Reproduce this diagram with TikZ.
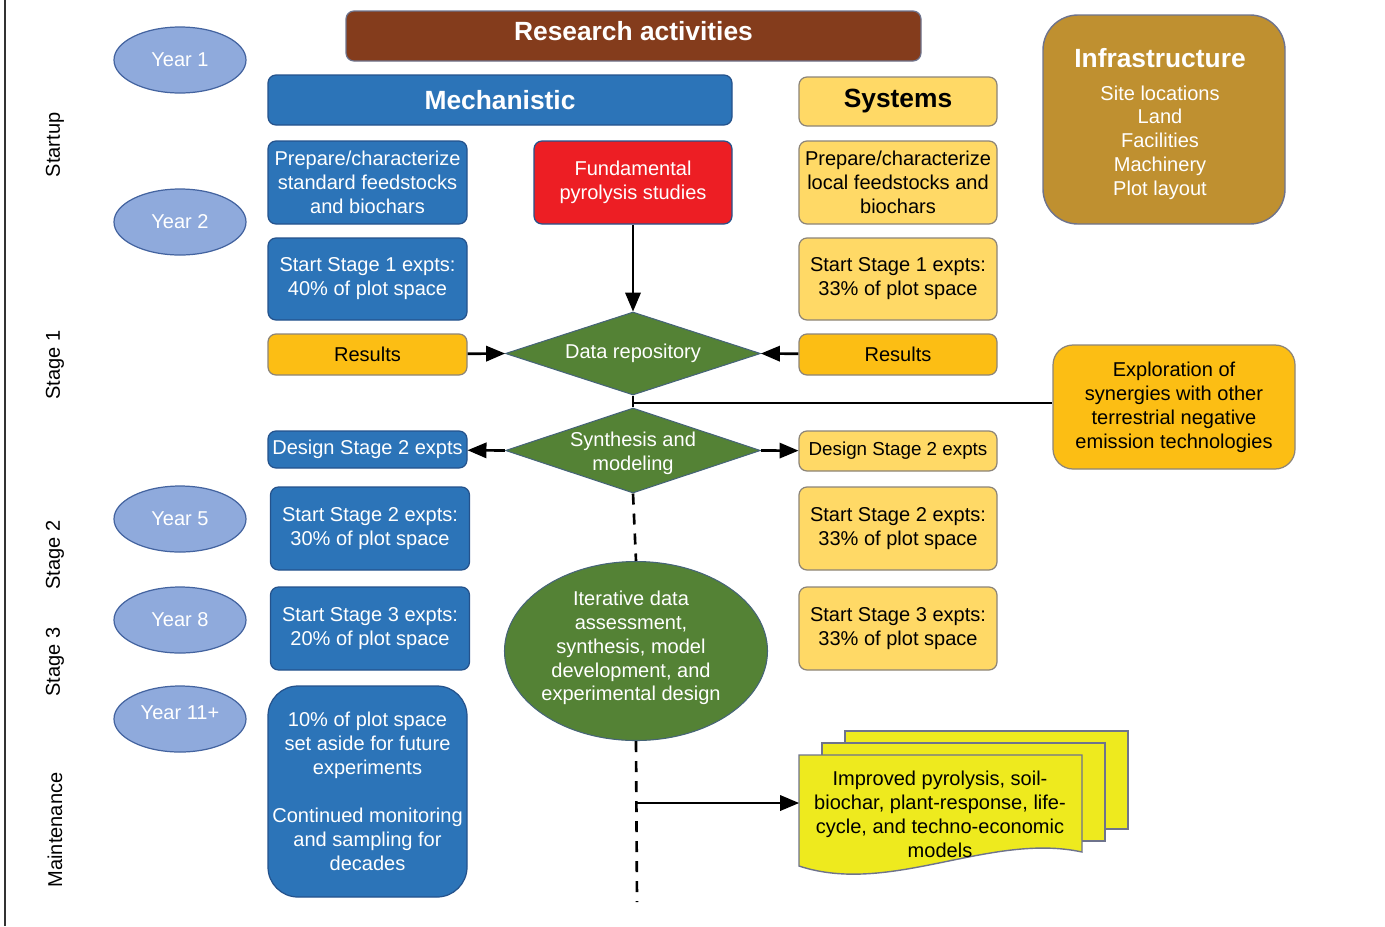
\documentclass[tikz,border=0pt]{standalone}
\usepackage{fontspec}
\setmainfont{Liberation Sans}
\usepackage{tikz}
\usetikzlibrary{arrows,shapes.geometric}
\definecolor{resbrown}{RGB}{132,60,28}
\definecolor{mechblue}{RGB}{44,116,184}
\definecolor{mechedge}{RGB}{36,82,140}
\definecolor{sysyellow}{RGB}{255,217,102}
\definecolor{sysedge}{RGB}{140,132,120}
\definecolor{resorange}{RGB}{252,190,20}
\definecolor{infragold}{RGB}{191,144,48}
\definecolor{fundred}{RGB}{237,30,36}
\definecolor{diagreen}{RGB}{84,130,53}
\definecolor{diaedge}{RGB}{70,100,120}
\definecolor{yearblue}{RGB}{143,170,220}
\definecolor{yearedge}{RGB}{68,100,160}
\definecolor{docyellow}{RGB}{238,234,30}
\definecolor{docedge}{RGB}{110,115,140}
\newcommand{\bodyfont}{\fontsize{11.4}{13.6}\selectfont}
\newcommand{\headfont}{\fontsize{15}{18}\selectfont\bfseries}
\tikzset{
  base/.style = {align=center, inner sep=0pt, text centered, font=\bodyfont},
  mech/.style = {base, rectangle, rounded corners=1.6mm, fill=mechblue,
    draw=mechedge, line width=0.7pt, text=white, minimum width=39.8mm},% blue column
  sys/.style = {base, rectangle, rounded corners=1.6mm, fill=sysyellow,
    draw=sysedge, line width=0.7pt, text=black, minimum width=39.6mm},% yellow column
  res/.style = {sys, fill=resorange, minimum height=8.2mm},% results boxes
  year/.style = {base, ellipse, fill=yearblue, draw=yearedge, line width=0.7pt,
    text=white, minimum width=26.4mm, minimum height=13.2mm},
  phase/.style = {base, rotate=90, text=black},
  dia/.style = {diamond, aspect=3, fill=diagreen, draw=diaedge, line width=0.6pt,
    inner sep=0pt, minimum width=51mm},
  wtxt/.style = {base, text=white},
  flow/.style = {line width=1.5pt, black},
  docpage/.style = {fill=docyellow, draw=docedge, line width=0.8pt}
}
\begin{document}
\begin{tikzpicture}[x=0.2mm,y=-0.2mm,>=triangle 45]
\useasboundingbox (0,0) rectangle (1385,926);
\draw[line width=0.6pt, black!80] (5,0) -- (5,926);

% phases and years
\node[phase] (pstart) at (55,145) {Startup};
\node[phase] (pone) at (55,365) {Stage 1};
\node[phase] (ptwo) at (55,555) {Stage 2};
\node[phase] (pthree) at (55,662) {Stage 3};
\node[phase] (pmaint) at (55,830) {Maintenance};
\node[year] (y1) at (180,60) {Year 1};
\node[year] (y2) at (180,222) {Year 2};
\node[year] (y5) at (180,519) {Year 5};
\node[year] (y8) at (180,620) {Year 8};
\node[year, text depth=7pt] (y11) at (180,719) {Year 11+};

% headers
\node[base, rectangle, rounded corners=1.6mm, fill=resbrown, draw=docedge,
  line width=0.7pt, text=white, font=\headfont, minimum width=115mm,
  minimum height=10mm, text depth=6pt] (research) at (633.5,36) {Research activities};
\node[mech, font=\headfont, minimum width=92.8mm, minimum height=10mm]
  (mechanistic) at (500,100) {Mechanistic};
\node[sys, font=\headfont, minimum height=9.8mm] (systems) at (898,101.5) {Systems};
\node[base, rectangle, rounded corners=7mm, fill=infragold, draw=docedge,
  line width=0.8pt, minimum width=48.4mm, minimum height=41.8mm]
  (infra) at (1164,119.5) {};
\node[wtxt] (infratxt) at (1160,124) {{\headfont Infrastructure}\\[5pt]
  Site locations\\ Land\\ Facilities\\ Machinery\\ Plot layout};

% mechanistic column
\node[mech, minimum height=16.6mm] (prepstd) at (367.5,182.5)
  {Prepare/characterize\\ standard feedstocks\\ and biochars};
\node[mech, minimum height=16.4mm] (s1mech) at (367.5,279)
  {Start Stage 1 expts:\\ 40\% of plot space};
\node[res, minimum width=39.8mm] (resmech) at (367.5,354.5) {Results};
\node[mech, minimum height=7.4mm] (desmech) at (367.5,449.5) {Design Stage 2 expts};
\node[mech, minimum height=16.6mm] (s2mech) at (370,528.5)
  {Start Stage 2 expts:\\ 30\% of plot space};
\node[mech, minimum height=16.6mm] (s3mech) at (370,628.5)
  {Start Stage 3 expts:\\ 20\% of plot space};
\node[mech, rounded corners=6mm, minimum height=42.2mm] (maint) at (367.5,791.5)
  {10\% of plot space\\ set aside for future\\ experiments\\[13.6pt]
   Continued monitoring\\ and sampling for\\ decades};

% centre column
\node[mech, fill=fundred, draw=mechedge, minimum width=39.6mm, minimum height=16.6mm]
  (fund) at (633,182.5) {Fundamental\\ pyrolysis studies};
\node[dia, minimum height=16.6mm] (datarep) at (633,353.5) {};
\node[wtxt] (datareptxt) at (datarep) {Data repository};
\node[dia, minimum height=17mm] (synth) at (633,450.5) {};
\node[wtxt] (synthtxt) at (633,453) {Synthesis and\\ modeling};
\node[base, ellipse, fill=diagreen, draw=diaedge, line width=0.6pt,
  minimum width=52.6mm, minimum height=35.8mm] (iter) at (636,651) {};
\node[wtxt] (itertxt) at (631,648) {Iterative data\\ assessment,\\ synthesis, model\\
  development, and\\ experimental design};

% systems column
\node[sys, minimum height=16.6mm] (preploc) at (898,182.5)
  {Prepare/characterize\\ local feedstocks and\\ biochars};
\node[sys, minimum height=16.4mm] (s1sys) at (898,279)
  {Start Stage 1 expts:\\ 33\% of plot space};
\node[res] (ressys) at (898,354.5) {Results};
\node[sys, minimum height=8mm, font=\fontsize{10.7}{13}\selectfont] (dessys)
  at (898,451) {Design Stage 2 expts};
\node[sys, minimum height=16.6mm] (s2sys) at (898,528.5)
  {Start Stage 2 expts:\\ 33\% of plot space};
\node[sys, minimum height=16.6mm] (s3sys) at (898,628.5)
  {Start Stage 3 expts:\\ 33\% of plot space};
\node[sys, fill=resorange, rounded corners=4mm, minimum width=48.4mm,
  minimum height=24.8mm] (explor) at (1174,407)
  {Exploration of\\ synergies with other\\ terrestrial negative\\ emission technologies};

% models (stacked documents)
\filldraw[docpage] (845,731) rectangle (1128,829);
\filldraw[docpage] (822,743) rectangle (1105,841);
\filldraw[docpage] (799,755) -- (1082,755) -- (1082,852)
  .. controls (990,832) and (890,896) .. (799,866) -- cycle;
\node[base] (models) at (940,814) {Improved pyrolysis, soil-\\ biochar, plant-response, life-\\
  cycle, and techno-economic\\ models};
\coordinate (docw) at (799,803);

% connectors
\coordinate (jn) at (633,403);
\coordinate (branch) at (637,803);
\coordinate (dend) at (637,902);
\draw[flow,->] (fund) -- (datarep.north);
\draw[flow,->] (resmech) -- (datarep.west);
\draw[flow,->] (ressys) -- (datarep.east);
\draw[flow] (datarep.south) -- (synth.north);
\draw[flow] (jn) -- (jn -| explor.west);
\draw[flow,->] (synth.west) -- (desmech);
\draw[flow,->] (synth.east) -- (dessys);
\draw[flow, dash pattern=on 2.2mm off 1.8mm] (synth.south) -- (iter.north);
\draw[flow, dash pattern=on 2.2mm off 1.8mm] (iter.south) -- (dend);
\draw[flow,->] (branch) -- (docw);
\end{tikzpicture}
\end{document}
